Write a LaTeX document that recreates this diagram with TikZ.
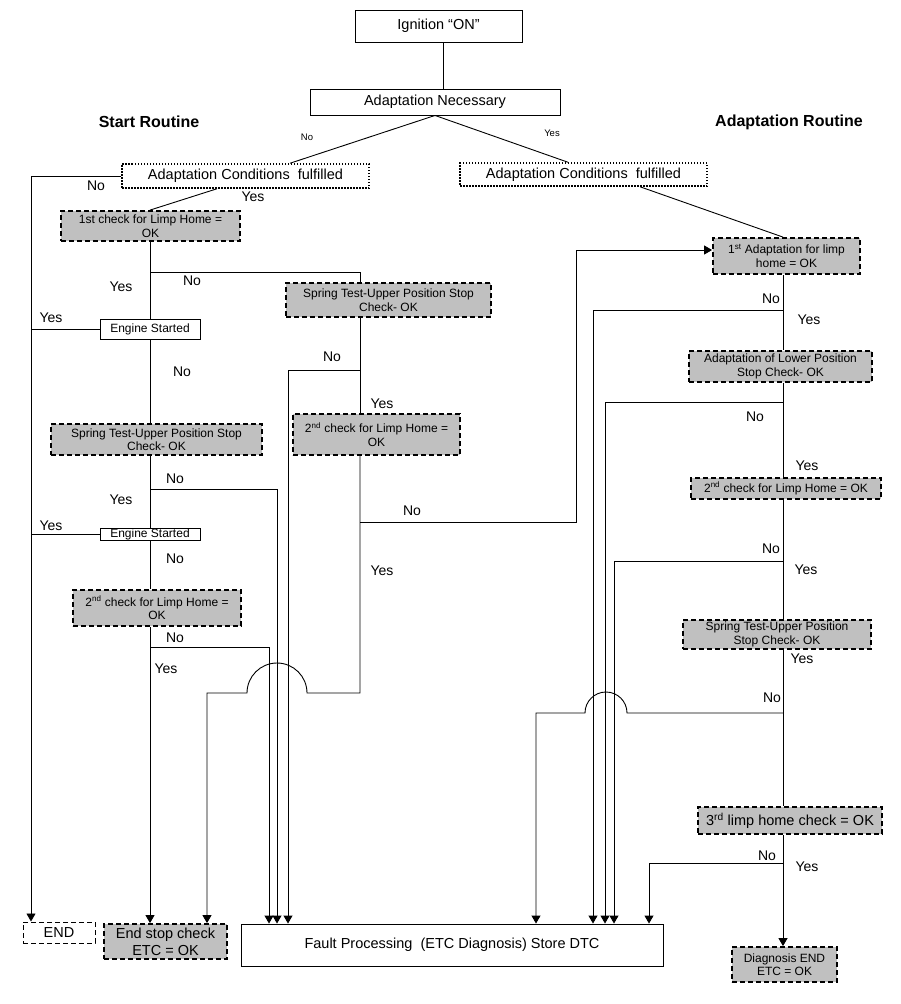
\documentclass[tikz,border=0pt]{standalone}
\usepackage{fontspec}
\setmainfont{Liberation Sans}
\usetikzlibrary{arrows.meta}
\definecolor{boxgray}{RGB}{192,192,192}
\begin{document}
\begin{tikzpicture}[x=1pt,y=-1pt,
  every node/.style={inner sep=0pt, align=center},
  plain/.style={draw, line width=0.9pt},
  dotbox/.style={draw, line width=1.5pt, dash pattern=on 1.5pt off 1.5pt},
  gbox/.style={draw, fill=boxgray, line width=1.8pt, dash pattern=on 5pt off 3pt},
  endbox/.style={draw, line width=1pt, dash pattern=on 5pt off 3pt},
  f12/.style={font=\fontsize{12}{13.5}\selectfont},
  f14/.style={font=\fontsize{14.5}{17}\selectfont},
  lab/.style={font=\fontsize{14}{16}\selectfont},
  slab/.style={font=\fontsize{9.5}{11}\selectfont},
  ttl/.style={font=\bfseries\fontsize{16}{18}\selectfont},
  conn/.style={line width=0.9pt},
  arr/.style={conn, -{Triangle[width=9pt,length=8pt]}},
]
\fill[white] (0,0) rectangle (900,1004);
\useasboundingbox (0,0) rectangle (900,1004);

% ---- nodes ----
\node[plain, f14, minimum width=167pt, minimum height=32pt] (ign) at (438.5,26) {Ignition “ON”};
\node[plain, f14, minimum width=250pt, minimum height=26pt] (adnec) at (435,102) {Adaptation Necessary};
\node[ttl] (tstart) at (149,122) {Start Routine};
\node[ttl] (tadapt) at (789,122) {Adaptation Routine};
\node[dotbox, f14, minimum width=247pt, minimum height=24pt] (acl) at (245.5,176) {Adaptation Conditions\ \ fulfilled};
\node[dotbox, f14, minimum width=247pt, minimum height=23pt] (acr) at (583.5,174.5) {Adaptation Conditions\ \ fulfilled};
\node[gbox, f12, minimum width=179pt, minimum height=30pt] (chk1) at (150.5,226) {1st check for Limp Home =\\OK};
\node[plain, f12, minimum width=100pt, minimum height=20pt] (es1) at (150,329) {Engine Started};
\node[gbox, f12, minimum width=205pt, minimum height=34pt] (spm) at (388.5,300) {Spring Test-Upper Position Stop\\Check- OK};
\node[gbox, f12, minimum width=167pt, minimum height=41pt] (chk2m) at (376.5,434.5) {2\textsuperscript{nd} check for Limp Home =\\OK};
\node[gbox, f12, minimum width=211pt, minimum height=31pt] (spl) at (156.5,439.5) {Spring Test-Upper Position Stop\\Check- OK};
\node[plain, f12, minimum width=100pt, minimum height=12pt] (es2) at (150,534) {Engine Started};
\node[gbox, f12, minimum width=168pt, minimum height=36pt] (chk2l) at (157,608) {2\textsuperscript{nd} check for Limp Home =\\OK};
\node[endbox, f14, minimum width=72pt, minimum height=21pt] (endb) at (59,932.5) {END};
\node[gbox, f14, minimum width=123pt, minimum height=35pt] (estop) at (165.5,941.5) {End stop check\\ETC = OK};
\node[plain, f14, minimum width=422pt, minimum height=42pt] (fault) at (452,945) {Fault Processing\ \ (ETC Diagnosis) Store DTC};
\node[gbox, f12, minimum width=147pt, minimum height=36pt] (ad1) at (786.5,256) {1\textsuperscript{st} Adaptation for limp\\home = OK};
\node[gbox, f12, minimum width=183pt, minimum height=31pt] (adlow) at (780.5,366.5) {Adaptation of Lower Position\\Stop Check- OK};
\node[gbox, f12, minimum width=190pt, minimum height=21pt] (chk2r) at (786,488.5) {2\textsuperscript{nd} check for Limp Home = OK};
\node[gbox, f12, minimum width=188pt, minimum height=29pt] (spr) at (777,634.5) {Spring Test-Upper Position\\Stop Check- OK};
\node[gbox, f14, minimum width=184pt, minimum height=27pt] (chk3) at (790,820.5) {3\textsuperscript{rd} limp home check = OK};
\node[gbox, f12, minimum width=105pt, minimum height=35pt] (diag) at (784.5,964.5) {Diagnosis END\\ETC = OK};

% ---- junctions ----
\coordinate (j1) at (150,272);
\coordinate (j2) at (360,370);
\coordinate (j3) at (360,522);
\coordinate (j4) at (150,489);
\coordinate (j5) at (150,647);
\coordinate (j6) at (783,310);
\coordinate (j7) at (783,402);
\coordinate (j8) at (783,561);
\coordinate (j9) at (783,713);
\coordinate (j10) at (783,863);

% ---- connectors: top ----
\draw[conn] (443,0 |- ign.south) -- (443,0 |- adnec.north);
\draw[conn] (adnec.south) -- (290,0 |- acl.north);
\draw[conn] (adnec.south) -- (568,0 |- acr.north);
\draw[arr] (acl.west) -- (31,0 |- acl.west) -- (31,0 |- endb.north);
\draw[conn] (217,0 |- acl.south) -- (150,0 |- chk1.north);

% ---- start routine ----
\draw[conn] (150,0 |- chk1.south) -- (150,0 |- es1.north);
\draw[conn] (j1) -- (360,0 |- j1) -- (360,0 |- spm.north);
\draw[conn] (es1.west) -- (31,0 |- es1.west);
\draw[conn] (150,0 |- es1.south) -- (150,0 |- spl.north);
\draw[conn] (360,0 |- spm.south) -- (360,0 |- chk2m.north);
\draw[arr] (j2) -- (288,0 |- j2) -- (288,0 |- fault.north);
\draw[arr] (360,0 |- chk2m.south) -- (360,693) -- (307,693)
   arc[start angle=0, end angle=-180, radius=30] -- (207,693) -- (207,0 |- estop.north);
\draw[arr] (j3) -- (576,0 |- j3) -- (576,250) -- (ad1.west |- 576,250);
\draw[conn] (150,0 |- spl.south) -- (150,0 |- es2.north);
\draw[arr] (j4) -- (277,0 |- j4) -- (277,0 |- fault.north);
\draw[conn] (es2.west) -- (31,0 |- es2.west);
\draw[conn] (150,0 |- es2.south) -- (150,0 |- chk2l.north);
\draw[arr] (150,0 |- chk2l.south) -- (150,0 |- estop.north);
\draw[arr] (j5) -- (269,0 |- j5) -- (269,0 |- fault.north);

% ---- adaptation routine ----
\draw[conn] (640,0 |- acr.south) -- (783,0 |- ad1.north);
\draw[conn] (783,0 |- ad1.south) -- (783,0 |- adlow.north);
\draw[arr] (j6) -- (593,0 |- j6) -- (593,0 |- fault.north);
\draw[conn] (783,0 |- adlow.south) -- (783,0 |- chk2r.north);
\draw[arr] (j7) -- (605,0 |- j7) -- (605,0 |- fault.north);
\draw[conn] (783,0 |- chk2r.south) -- (783,0 |- spr.north);
\draw[arr] (j8) -- (614,0 |- j8) -- (614,0 |- fault.north);
\draw[conn] (783,0 |- spr.south) -- (783,0 |- chk3.north);
\draw[arr] (j9) -- (627,713) arc[start angle=0, end angle=-180, radius=21]
   -- (536,713) -- (536,0 |- fault.north);
\draw[arr] (783,0 |- chk3.south) -- (783,0 |- diag.north);
\draw[arr] (j10) -- (649,0 |- j10) -- (649,0 |- fault.north);

% ---- labels ----
\node[slab] (lno0) at (307,137) {No};
\node[slab] (lyes0) at (552,133) {Yes};
\node[lab] (l1) at (96,186) {No};
\node[lab] (l2) at (253,197) {Yes};
\node[lab] (l3) at (121,287) {Yes};
\node[lab] (l4) at (192,281) {No};
\node[lab] (l5) at (51,318) {Yes};
\node[lab] (l6) at (332,357) {No};
\node[lab] (l7) at (182,372) {No};
\node[lab] (l8) at (382,404) {Yes};
\node[lab] (l9) at (175,479) {No};
\node[lab] (l10) at (121,500) {Yes};
\node[lab] (l11) at (412,511) {No};
\node[lab] (l12) at (51,526) {Yes};
\node[lab] (l13) at (175,559) {No};
\node[lab] (l14) at (382,571) {Yes};
\node[lab] (l15) at (175,638) {No};
\node[lab] (l16) at (166,669) {Yes};
\node[lab] (r1) at (771,299) {No};
\node[lab] (r2) at (809,320) {Yes};
\node[lab] (r3) at (755,417) {No};
\node[lab] (r4) at (807,466) {Yes};
\node[lab] (r5) at (771,549) {No};
\node[lab] (r6) at (806,570) {Yes};
\node[lab] (r7) at (802,659) {Yes};
\node[lab] (r8) at (772,698) {No};
\node[lab] (r9) at (767,856) {No};
\node[lab] (r10) at (807,867) {Yes};
\end{tikzpicture}
\end{document}
